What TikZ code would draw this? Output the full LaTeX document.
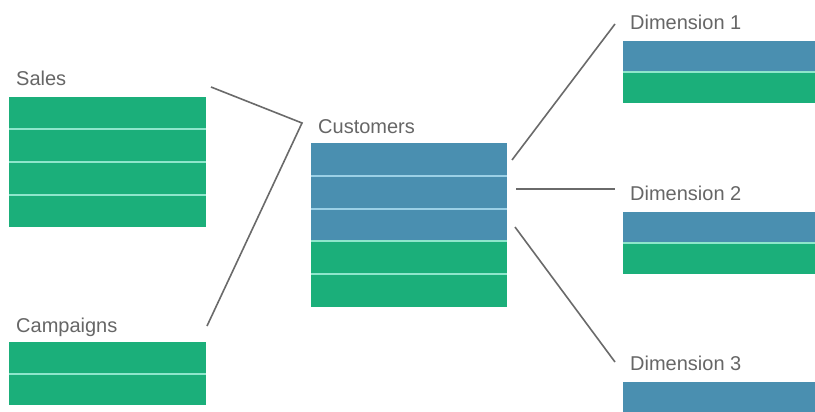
\documentclass[tikz,border=0pt]{standalone}
\usepackage{fontspec}
\setmainfont{Liberation Sans}
\definecolor{tgreen}{HTML}{1BAF7A}
\definecolor{tblue}{HTML}{4A8FB0}
\definecolor{sepgreen}{HTML}{8EE6CB}
\definecolor{sepblue}{HTML}{9BD0E6}
\definecolor{linegray}{HTML}{6A6A6A}
\definecolor{labelgray}{HTML}{666666}
\tikzset{
  lbl/.style={anchor=base west, inner sep=0pt, text=labelgray, font=\fontsize{20}{22}\selectfont},
  conn/.style={draw=linegray, line width=1.6pt},
  sep/.style={line width=2pt},
}
\begin{document}
\begin{tikzpicture}[x=1pt,y=-1pt]
\useasboundingbox[fill=white] (0,0) rectangle (815,412);
% Sales table
\foreach \i in {0,1,2,3} \fill[tgreen] (9,{97+\i*32.5}) rectangle (206,{97+(\i+1)*32.5});
\foreach \i in {1,2,3} \draw[sep,sepgreen] (9,{97+\i*32.5}) -- (206,{97+\i*32.5});
% Campaigns table
\foreach \i in {0,1} \fill[tgreen] (9,{342+\i*31.5}) rectangle (206,{342+(\i+1)*31.5});
\draw[sep,sepgreen] (9,373.5) -- (206,373.5);
% Customers table
\foreach \i in {0,1,2} \fill[tblue] (311,{143+\i*32.8}) rectangle (507,{143+(\i+1)*32.8});
\foreach \i in {3,4} \fill[tgreen] (311,{143+\i*32.8}) rectangle (507,{143+(\i+1)*32.8});
\foreach \i in {1,2} \draw[sep,sepblue] (311,{143+\i*32.8}) -- (507,{143+\i*32.8});
\foreach \i in {3,4} \draw[sep,sepgreen] (311,{143+\i*32.8}) -- (507,{143+\i*32.8});
% Dimension tables
\fill[tblue] (623,41) rectangle (815,72);
\fill[tgreen] (623,72) rectangle (815,103);
\draw[sep,sepgreen] (623,72) -- (815,72);
\fill[tblue] (623,212) rectangle (815,243);
\fill[tgreen] (623,243) rectangle (815,274);
\draw[sep,sepgreen] (623,243) -- (815,243);
\fill[tblue] (623,382) rectangle (815,414);
% labels
\node[lbl] (sales) at (16,86) {Sales};
\node[lbl] (camp) at (16,332) {Campaigns};
\node[lbl] (cust) at (318,133) {Customers};
\node[lbl] (dimA) at (630,30) {Dimension 1};
\node[lbl] (dimB) at (630,200) {Dimension 2};
\node[lbl] (dimC) at (630,370) {Dimension 3};
% connector endpoints
\coordinate (sEnd) at (211,87);
\coordinate (join) at (302,123);
\coordinate (cEnd) at (207,326);
\coordinate (k1) at (512,160);
\coordinate (k2) at (516,189);
\coordinate (k3) at (515,227);
\coordinate (d1) at (615,24);
\coordinate (d2) at (615,189);
\coordinate (d3) at (615,362);
\draw[conn] (sEnd) -- (join) -- (cEnd);
\draw[conn] (k1) -- (d1);
\draw[conn] (k2) -- (d2);
\draw[conn] (k3) -- (d3);
\end{tikzpicture}
\end{document}
